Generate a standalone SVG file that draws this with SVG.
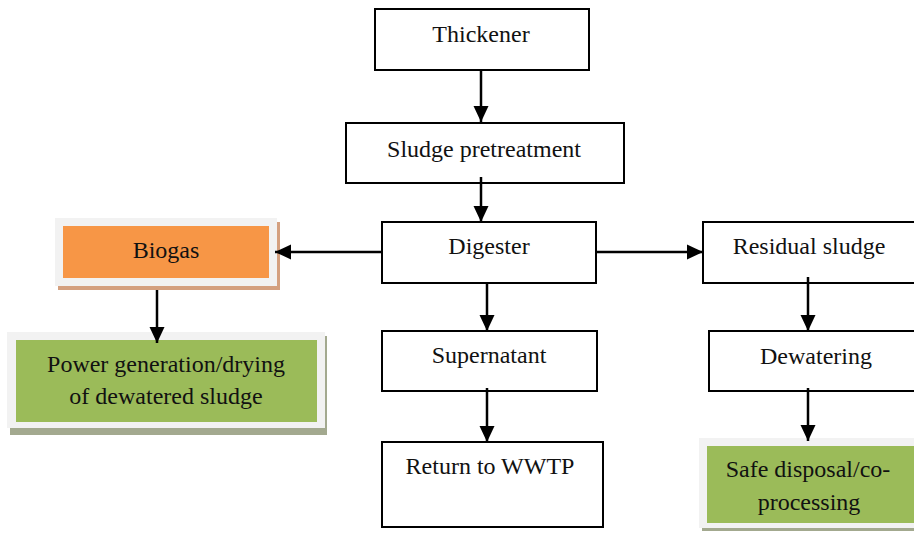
<svg xmlns="http://www.w3.org/2000/svg" width="914" height="533" viewBox="0 0 914 533">
<style>
.box{fill:#fff;stroke:#000;stroke-width:2}
.frame{fill:#F2F2F2}
.t{font-family:"Liberation Serif","Times New Roman",serif;font-size:24px;fill:#111;text-anchor:middle}
.c{stroke:#000;stroke-width:2.5;fill:none;marker-end:url(#ah)}
</style>
<defs>
<marker id="ah" markerUnits="userSpaceOnUse" markerWidth="18" markerHeight="18" viewBox="0 0 18 18" refX="16" refY="9" orient="auto">
<path d="M0,1.5 L16,9 L0,16.5 Z" fill="#000"/>
</marker>
</defs>
<rect width="914" height="533" fill="#fff"/>
<g id="thickener">
<rect class="box" x="375" y="9" width="214" height="61"/>
<text class="t" x="481" y="42">Thickener</text>
</g>
<g id="pretreatment">
<rect class="box" x="346" y="123" width="278" height="60"/>
<text class="t" x="484" y="157">Sludge pretreatment</text>
</g>
<g id="digester">
<rect class="box" x="382" y="222" width="214" height="61"/>
<text class="t" x="489" y="254">Digester</text>
</g>
<g id="residual">
<rect class="box" x="703" y="222" width="215" height="61"/>
<text class="t" x="809" y="254">Residual sludge</text>
</g>
<g id="dewatering">
<rect class="box" x="709" y="331" width="209" height="60"/>
<text class="t" x="816" y="364">Dewatering</text>
</g>
<g id="supernatant">
<rect class="box" x="382" y="331" width="215" height="60"/>
<text class="t" x="489" y="363">Supernatant</text>
</g>
<g id="return">
<rect class="box" x="382" y="442" width="221" height="85"/>
<text class="t" x="490" y="474">Return to WWTP</text>
</g>
<g id="biogas">
<rect x="58" y="222" width="222" height="68" fill="#D4A07F"/>
<rect class="frame" x="55" y="218" width="222" height="68"/>
<rect x="63" y="226" width="206" height="52" fill="#F79646"/>
<text class="t" x="166" y="258">Biogas</text>
</g>
<g id="power">
<rect x="10" y="336" width="317" height="99" fill="#A3A98F"/>
<rect class="frame" x="7" y="332" width="318" height="96"/>
<rect x="16" y="340" width="301" height="82" fill="#9BBB59"/>
<text class="t" x="166" y="372">Power generation/drying</text>
<text class="t" x="166" y="404">of dewatered sludge</text>
</g>
<g id="disposal">
<rect x="702" y="442" width="214" height="89" fill="#A3A98F"/>
<rect class="frame" x="699" y="438" width="217" height="90"/>
<rect x="707" y="446" width="209" height="77" fill="#9BBB59"/>
<text class="t" x="808" y="477">Safe disposal/co-</text>
<text class="t" x="809" y="510">processing</text>
</g>
<g id="connectors">
<line class="c" x1="481" y1="70" x2="481" y2="122"/>
<line class="c" x1="481" y1="177" x2="481" y2="222"/>
<line class="c" x1="382" y1="252" x2="275" y2="252"/>
<line class="c" x1="596" y1="252" x2="703" y2="252"/>
<line class="c" x1="487" y1="283" x2="487" y2="331"/>
<line class="c" x1="487" y1="388" x2="487" y2="442"/>
<line class="c" x1="808" y1="277" x2="808" y2="331"/>
<line class="c" x1="808" y1="388" x2="808" y2="441"/>
<line class="c" x1="157" y1="290" x2="157" y2="343"/>
</g>
</svg>
